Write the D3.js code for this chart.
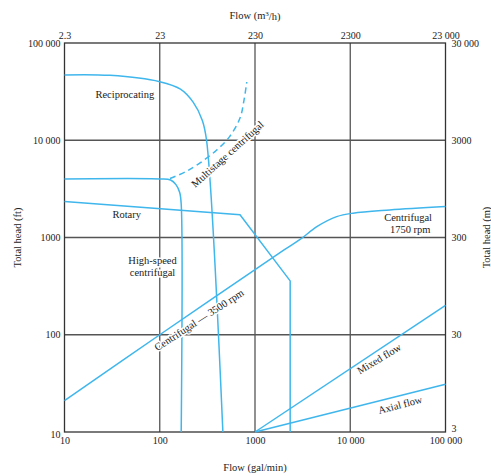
<!DOCTYPE html>
<html>
<head>
<meta charset="utf-8">
<script src="https://cdn.jsdelivr.net/npm/d3@7"></script>
<style>
  html, body { margin: 0; padding: 0; background: #fff; }
  svg text { font-family: "Liberation Serif", "Times New Roman", serif; fill: #222; }
</style>
</head>
<body>
<svg id="chart" width="491" height="476"></svg>
<script>
// ---- data (flow in gal/min, head in ft) ----
const bottomTicks = [10, 100, 1000, 10000, 100000];
const bottomLabels = ["10", "100", "1000", "10 000", "100 000"];
const topLabels = ["2.3", "23", "230", "2300", "23 000"];
const leftTicks = [10, 100, 1000, 10000, 100000];
const leftLabels = ["10", "100", "1000", "10 000", "100 000"];
const rightLabels = ["3", "30", "300", "3000", "30 000"];

const reciprocating = [[10, 47000], [30, 46500], [100, 40000], [165, 33500], [225, 24500], [280, 16000], [310, 10000], [460, 10]];
const highSpeed = [[10, 4000], [100, 4000], [130, 3900], [148, 3500], [162, 2900], [168, 2200], [168, 10]];
const multistage = [[128, 4050], [185, 4720], [265, 5850], [397, 7950], [541, 10900], [696, 16900], [767, 25900], [820, 39700]];
const rotary = [[10, 2340], [696, 1710], [2340, 358], [2340, 10]];
const centrifugal = [[10, 21], [100, 100], [2000, 740], [3000, 960], [4500, 1300], [7200, 1640], [10700, 1780], [26000, 1920], [100000, 2080]];
const mixedFlow = [[1000, 10], [100000, 200]];
const axialFlow = [[1000, 10], [100000, 31]];

const labelText = ["Reciprocating", "Rotary", "High-speed", "centrifugal", "Centrifugal", "1750 rpm",
  "Multistage centrifugal", "Centrifugal \u2014 3500 rpm", "Mixed flow", "Axial flow"];
const labelAt = [[43, 29200], [45, 1710], [84, 580], [84, 435], [40500, 1590], [42600, 1197],
  [515, 7190], [259, 142], [20100, 56.5], [33400, 19]];
const labelAngle = [0, 0, 0, 0, 0, 0, -42, -33, -31, -15];

// ---- layout ----
const svg = d3.select("#chart");
const L = 64.5, R = 445.5, T = 43, B = 432;
const x = d3.scaleLog().domain([10, 100000]).range([L, R]);
const y = d3.scaleLog().domain([10, 100000]).range([B, T]);
const blue = "#3fb6ec";
const grid = "#555";

// grid
svg.append("g").selectAll("line").data(bottomTicks.slice(1, -1)).join("line")
  .attr("x1", d => x(d)).attr("x2", d => x(d)).attr("y1", T).attr("y2", B)
  .attr("stroke", grid).attr("stroke-width", 1.3);
svg.append("g").selectAll("line").data(leftTicks.slice(1, -1)).join("line")
  .attr("y1", d => y(d)).attr("y2", d => y(d)).attr("x1", L).attr("x2", R)
  .attr("stroke", grid).attr("stroke-width", 1.3);
svg.append("rect").attr("x", L).attr("y", T).attr("width", R - L).attr("height", B - T)
  .attr("fill", "none").attr("stroke", "#333").attr("stroke-width", 1.3);

// axes
const fs = "10px";
const lfs = "10.5px";
const axB = svg.append("g").attr("transform", `translate(0,${B})`)
  .call(d3.axisBottom(x).tickValues(bottomTicks).tickFormat((d, i) => bottomLabels[i]).tickSize(0).tickPadding(5));
const axT = svg.append("g").attr("transform", `translate(0,${T})`)
  .call(d3.axisTop(x).tickValues(bottomTicks).tickFormat((d, i) => topLabels[i]).tickSize(0).tickPadding(4));
const axL = svg.append("g").attr("transform", `translate(${L},0)`)
  .call(d3.axisLeft(y).tickValues(leftTicks).tickFormat((d, i) => leftLabels[i]).tickSize(0).tickPadding(4));
const axR = svg.append("g").attr("transform", `translate(${R},0)`)
  .call(d3.axisRight(y).tickValues(leftTicks).tickFormat((d, i) => rightLabels[i]).tickSize(0).tickPadding(6));
[axB, axT, axL, axR].forEach(a => {
  a.select(".domain").remove();
  a.selectAll("text").attr("font-family", "Liberation Serif").attr("font-size", fs).attr("fill", "#222");
});
axL.selectAll("text").filter((d) => d === 10).attr("dy", "0.55em");
axR.selectAll("text").filter((d) => d === 10).attr("dy", "-0.05em");

// curves
const line = d3.line().x(d => x(d[0])).y(d => y(d[1])).curve(d3.curveCatmullRom.alpha(0.5));
const straight = d3.line().x(d => x(d[0])).y(d => y(d[1]));
const g = svg.append("g").attr("fill", "none").attr("stroke", blue).attr("stroke-width", 1.5);
g.append("path").attr("d", line(reciprocating));
g.append("path").attr("d", line(highSpeed));
g.append("path").attr("d", line(multistage)).attr("stroke-dasharray", "6,4");
g.append("path").attr("d", straight(rotary));
g.append("path").attr("d", line(centrifugal));
g.append("path").attr("d", straight(mixedFlow));
g.append("path").attr("d", straight(axialFlow));

// labels
svg.append("g").selectAll("text").data(labelText).join("text")
  .attr("transform", (d, i) => `translate(${x(labelAt[i][0])},${y(labelAt[i][1])}) rotate(${labelAngle[i]})`)
  .attr("text-anchor", "middle").attr("dominant-baseline", "central")
  .attr("font-size", lfs)
  .attr("stroke", "#fff").attr("stroke-width", 3).attr("paint-order", "stroke")
  .text(d => d);

// axis titles
const topTitle = svg.append("text").attr("x", x(1000)).attr("y", 19).attr("text-anchor", "middle").attr("font-size", lfs);
topTitle.append("tspan").text("Flow (m");
topTitle.append("tspan").attr("dy", "-0.4em").attr("font-size", "7px").text("3");
topTitle.append("tspan").attr("dy", "0.4em").text("/h)");
svg.append("text").attr("x", x(1000)).attr("y", 471).attr("text-anchor", "middle").attr("font-size", lfs).text("Flow (gal/min)");
svg.append("text").attr("transform", `translate(21,${(T + B) / 2}) rotate(-90)`).attr("text-anchor", "middle").attr("font-size", lfs).text("Total head (ft)");
svg.append("text").attr("transform", `translate(490,${(T + B) / 2}) rotate(-90)`).attr("text-anchor", "middle").attr("font-size", lfs).text("Total head (m)");
</script>
</body>
</html>
